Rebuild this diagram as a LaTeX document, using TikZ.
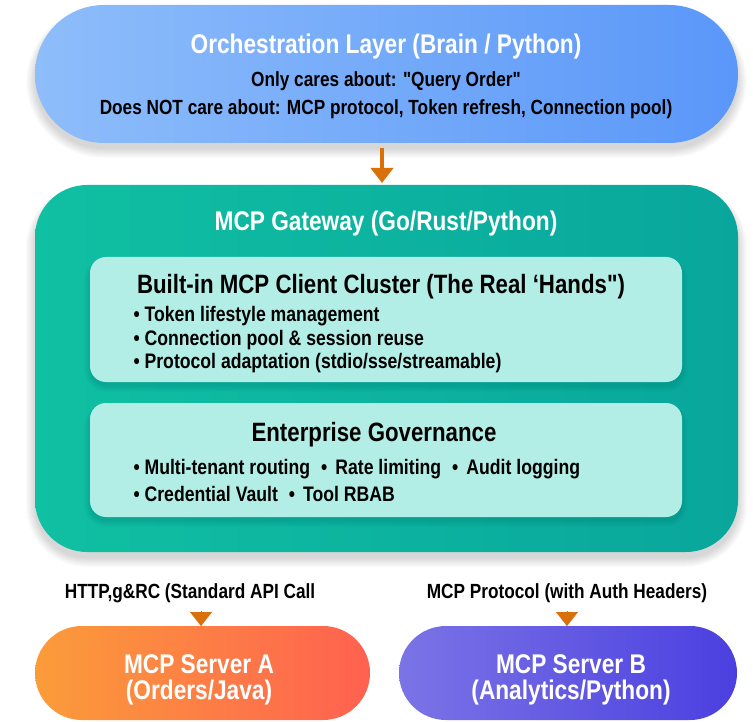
\documentclass[tikz,border=0pt]{standalone}
\usepackage{fontspec}
\setmainfont{Liberation Sans}[FakeStretch=0.84, Ligatures=TeXOff]
\usetikzlibrary{arrows.meta}
\definecolor{topL}{HTML}{8EBDFA}
\definecolor{topR}{HTML}{5A97F9}
\definecolor{gwL}{HTML}{10C0A2}
\definecolor{gwR}{HTML}{09A69C}
\definecolor{inner}{HTML}{B3EEE6}
\definecolor{saL}{HTML}{FB9C3A}
\definecolor{saR}{HTML}{FF6150}
\definecolor{sbL}{HTML}{7B74E6}
\definecolor{sbR}{HTML}{4B3FE0}
\definecolor{arr}{HTML}{D9700A}
\tikzset{
  box/.style={rectangle, inner sep=0pt, outer sep=0pt},
  titlew/.style={text=white, font=\bfseries\fontsize{27}{31}\selectfont},
  titleb/.style={text=black, font=\bfseries\fontsize{26.5}{30}\selectfont},
  body/.style={text=black, font=\bfseries\fontsize{20.5}{24}\selectfont},
  bul/.style={text=black, font=\bfseries\fontsize{21}{24}\selectfont, anchor=west},
  tri/.style={draw=arr, line width=0.1pt, -{Triangle[width=22pt,length=14pt]}, arr},
  shadowlayer/.style={fill=black, fill opacity=0.014},
}
\newcommand{\softshade}[5]{% x1 y1 x2 y2 radius
  \foreach \i in {0,...,9}{
    \fill[shadowlayer, rounded corners=#5pt+\i pt] (#1-\i, #2+6-\i*0.6) rectangle (#3+\i, #4+6+\i);
  }}
\newcommand{\bsep}{\hspace{11pt}•\hspace{8pt}}
\begin{document}
\begin{tikzpicture}[x=1pt,y=-1pt]
\useasboundingbox (0,0) rectangle (753,722);
\fill[white] (0,0) rectangle (753,722);
% shadows
\softshade{35}{5}{738}{143}{69}
\softshade{35}{185}{738}{552}{52}
% top pill
\node[box, minimum width=703pt, minimum height=138pt, rounded corners=69pt,
  left color=topL, right color=topR] (top) at (386.5,74) {};
\node[titlew] (t1) at (386,47) {Orchestration Layer (Brain / Python)};
\node[body] (t2) at (386,81) {Only cares about: "Query Order"};
\node[body] (t3) at (386,109) {Does NOT care about: MCP protocol, Token refresh, Connection pool)};
% gateway
\node[box, minimum width=703pt, minimum height=367pt, rounded corners=52pt,
  left color=gwL, right color=gwR] (gw) at (386.5,368.5) {};
\node[titlew] (g1) at (386,224) {MCP Gateway (Go/Rust/Python)};
\draw[arr, line width=4pt, -{Triangle[width=22pt,length=15pt]}, shorten <=5pt, shorten >=2pt] (top.south -| 382,0) -- (gw.north -| 382,0);
% inner shadows
\foreach \i in {0,...,6}{
  \fill[black, fill opacity=0.012, rounded corners=16pt+\i pt] (90-\i,257+4-\i*0.5) rectangle (682+\i,382+4+\i);
  \fill[black, fill opacity=0.012, rounded corners=16pt+\i pt] (90-\i,403+4-\i*0.5) rectangle (682+\i,517+4+\i);
}
% client cluster
\node[box, minimum width=592pt, minimum height=125pt, rounded corners=16pt, fill=inner] (c1) at (386,319.5) {};
\node[titleb] (c1t) at (381,287) {Built-in MCP Client Cluster (The Real ‘Hands")};
\node[bul] (c1a) at (130,316) {• Token lifestyle management};
\node[bul] (c1b) at (130,340) {• Connection pool \& session reuse};
\node[bul] (c1c) at (130,363) {• Protocol adaptation (stdio/sse/streamable)};
% governance
\node[box, minimum width=592pt, minimum height=114pt, rounded corners=16pt, fill=inner] (c2) at (386,460) {};
\node[titleb] (c2t) at (374,435) {Enterprise Governance};
\node[bul] (c2a) at (130,469) {• Multi-tenant routing\bsep Rate limiting\bsep Audit logging};
\node[bul] (c2b) at (130,494) {• Credential Vault\bsep Tool RBAB};
% labels
\node[body] (la) at (190,593) {HTTP,g\&RC (Standard API Call};
\node[body] (lb) at (567,593) {MCP Protocol (with Auth Headers)};
% servers
\node[box, minimum width=335pt, minimum height=94pt, rounded corners=47pt,
  left color=saL, right color=saR] (sa) at (202.5,673) {};
\node[box, minimum width=338pt, minimum height=94pt, rounded corners=47pt,
  left color=sbL, right color=sbR] (sb) at (568,673) {};
\node[titlew] (sa1) at (199,664) {MCP Server A};
\node[titlew] (sa2) at (199,693) {(Orders/Java)};
\node[titlew] (sb1) at (571,664) {MCP Server B};
\node[titlew] (sb2) at (571,693) {(Analytics/Python)};
\coordinate (ta) at (201,611);
\coordinate (tb) at (567,611);
\draw[tri] (ta) -- (ta |- sa.north);
\draw[tri] (tb) -- (tb |- sb.north);
\end{tikzpicture}
\end{document}
